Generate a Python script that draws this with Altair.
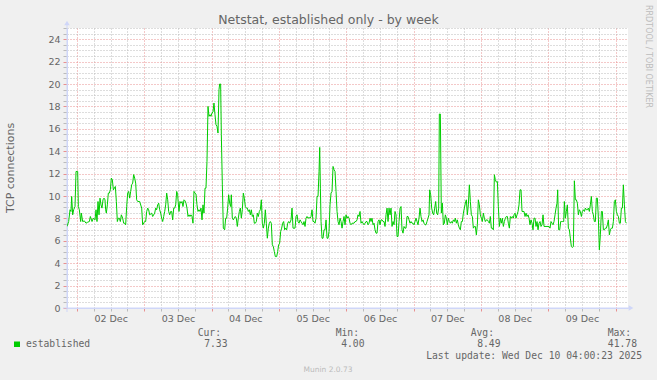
import json
import altair as alt
import pandas as pd

# ---- data (hours since 02 Dec 00:00, TCP connections) ----
HOURS = [
    -3.56, -2.97, -2.49, -2.14, -1.90, -1.54, -1.19, -0.71, -0.35, 0.24, 0.48, 0.83, 1.31, 1.55, 2.02,
    2.62, 3.21, 3.80, 4.40, 4.76, 5.35, 5.83, 6.42, 6.78, 7.13, 7.49, 7.85, 8.20, 8.56, 8.91, 9.27,
    9.63, 9.98, 10.22, 10.46, 10.82, 11.17, 11.53, 11.89, 12.24, 12.60, 12.96, 13.31, 13.67, 14.03,
    14.38, 14.74, 15.09, 15.45, 15.81, 16.28, 16.64, 16.99, 17.35, 17.71, 18.06, 18.42, 18.78, 19.13,
    19.49, 19.85, 20.20, 20.56, 20.92, 21.27, 21.63, 22.34, 23.06, 23.41, 24.13, 24.48, 24.84, 25.20,
    25.55, 25.91, 26.62, 26.98, 27.69, 28.05, 28.40, 28.76, 29.12, 29.47, 29.83, 30.18, 30.54, 30.90,
    31.26, 31.61, 31.97, 32.33, 32.68, 33.04, 33.40, 33.75, 34.11, 34.47, 34.82, 35.18, 35.54, 35.89,
    36.00, 36.36, 36.71, 37.07, 37.43, 37.78, 38.14, 38.50, 38.85, 39.21, 39.57, 39.92, 40.28, 40.63,
    40.99, 41.35, 41.70, 42.06, 42.42, 42.77, 43.13, 43.49, 43.84, 44.20, 44.56, 44.91, 45.27, 45.63,
    45.98, 46.34, 46.70, 47.05, 47.41, 47.76, 48.12, 48.48, 48.83, 49.19, 49.55, 49.90, 50.26, 50.62,
    50.85, 51.21, 51.45, 51.81, 52.16, 52.64, 52.99, 53.35, 53.71, 54.06, 54.42, 54.78, 55.01, 55.37,
    55.73, 56.08, 56.44, 56.80, 57.15, 57.51, 57.87, 58.22, 58.58, 58.94, 59.29, 59.65, 60.00, 60.36,
    60.72, 61.07, 61.43, 61.79, 62.14, 62.50, 62.86, 63.21, 63.57, 63.93, 64.28, 64.64, 65.00, 65.35,
    65.71, 66.07, 66.42, 66.78, 67.14, 67.49, 67.85, 68.21, 68.56, 68.92, 69.27, 69.63, 69.99, 70.34,
    70.70, 71.18, 71.53, 71.89, 72.25, 72.60, 72.96, 73.31, 73.67, 74.03, 74.38, 74.74, 75.10, 75.45,
    75.81, 76.30, 76.65, 77.01, 77.37, 77.72, 78.08, 78.44, 78.79, 79.15, 79.51, 79.86, 80.22, 80.57,
    80.93, 81.29, 81.64, 82.00, 82.36, 82.71, 83.07, 83.43, 83.78, 84.14, 84.50, 84.85, 85.21, 85.57,
    85.92, 86.28, 86.52, 86.76, 87.00, 87.35, 87.71, 88.06, 88.42, 88.78, 89.13, 89.49, 89.84, 90.20,
    90.56, 90.91, 91.27, 91.63, 91.98, 92.34, 92.70, 93.05, 93.41, 93.77, 94.12, 94.48, 94.84, 95.19,
    95.55, 95.90, 96.26, 96.62, 96.97, 97.33, 97.69, 98.04, 98.40, 98.76, 99.11, 99.47, 99.83, 100.18,
    100.54, 100.90, 101.25, 101.61, 101.96, 102.32, 102.68, 103.03, 103.39, 103.75, 104.10, 104.46,
    104.82, 105.17, 105.53, 105.89, 106.24, 106.60, 106.96, 107.31, 107.67, 108.03, 108.38, 108.74,
    109.10, 109.45, 109.81, 110.16, 110.52, 110.88, 111.23, 111.59, 111.95, 112.30, 112.66, 113.02,
    113.37, 113.73, 114.09, 114.44, 114.80, 115.16, 115.51, 115.86, 116.22, 116.57, 116.93, 117.29,
    117.64, 118.00, 118.36, 118.71, 119.07, 119.43, 119.78, 120.14, 120.50, 120.85, 121.21, 121.56,
    121.92, 122.28, 122.63, 122.99, 123.35, 123.70, 124.06, 124.42, 124.77, 125.13, 125.49, 125.72,
    126.08, 126.44, 126.79, 127.15, 127.51, 127.86, 128.22, 128.58, 128.93, 129.17, 129.53, 129.88,
    130.24, 130.60, 130.95, 131.31, 131.67, 132.02, 132.38, 132.73, 133.09, 133.45, 133.80, 134.16,
    134.52, 134.87, 135.23, 135.59, 135.94, 136.30, 136.66, 137.01, 137.37, 137.73, 138.08, 138.44,
    138.80, 139.15, 139.51, 139.87, 140.22, 140.58, 140.94, 141.29, 141.65, 142.01, 142.36, 142.72,
    143.07, 143.43, 143.79, 144.14, 144.50, 144.86, 145.21, 145.57, 145.93, 146.28, 146.64, 147.00,
    147.35, 147.71, 148.07, 148.42, 148.78, 149.13, 149.49, 149.85, 150.20, 150.56, 150.92, 151.27,
    151.63, 151.99, 152.34, 152.70, 153.06, 153.41, 153.77, 154.13, 154.48, 154.84, 155.19, 155.55,
    155.79, 156.15, 156.50, 156.86, 157.22, 157.57, 157.93, 158.29, 158.64, 159.00, 159.36, 159.71,
    160.07, 160.42, 160.78, 161.14, 161.49, 161.85, 162.21, 162.56, 162.92, 163.28, 163.63, 163.99,
    164.35, 164.70, 165.06, 165.42, 165.77, 166.13, 166.49, 166.84, 167.20, 167.55, 167.91, 168.27,
    168.62, 168.98, 169.34, 169.69, 170.05, 170.41, 170.76, 171.12, 171.36, 171.71, 172.07, 172.43,
    172.78, 173.14, 173.50, 173.73, 174.09, 174.45, 174.80, 175.16, 175.52, 175.87, 176.23, 176.59,
    176.94, 177.30, 177.66, 178.01, 178.37, 178.73, 179.08, 179.44, 179.80, 180.15, 180.51, 180.87,
    181.22, 181.58, 181.94, 182.29, 182.65, 183.00, 183.36, 183.72, 184.07, 184.43, 184.79, 185.14,
    185.50, 185.86, 186.21, 186.57, 186.93, 187.28, 187.64, 188.00, 188.35, 188.71, 189.07, 189.42,
    189.78, 190.14, 190.49, 190.85, 191.21, 191.56, 191.92, 192.28, 192.63, 192.99, 193.35, 193.70,
    194.06, 194.42, 194.77, 195.13, 195.49, 195.84,
]
VALUES = [
    7.28, 7.72, 8.77, 8.62, 9.96, 8.32, 8.77, 9.06, 12.19, 12.19, 9.06, 8.77, 7.72, 8.47, 7.72,
    7.78, 7.57, 7.66, 7.72, 8.17, 7.72, 8.02, 7.87, 8.77, 7.72, 9.51, 8.32, 9.81, 9.21, 8.92, 9.66,
    9.81, 9.66, 8.77, 8.47, 9.21, 10.26, 10.26, 10.55, 11.60, 11.45, 10.55, 10.70, 10.85, 9.51,
    7.72, 8.02, 8.02, 7.72, 8.32, 8.02, 7.57, 7.57, 7.43, 9.06, 10.26, 10.41, 9.81, 10.41,
    11.00, 11.15, 11.91, 11.60, 11.15, 9.66, 9.51, 9.51, 8.92, 7.43, 7.72, 7.72, 8.62, 8.92,
    8.77, 8.32, 8.47, 8.17, 8.47, 8.92, 8.77, 9.21, 9.36, 8.77, 8.47, 8.02, 7.72, 8.17,
    8.62, 9.21, 10.26, 9.66, 8.62, 8.32, 8.62, 8.62, 7.87, 8.92, 8.92, 9.21, 10.41, 10.11,
    9.66, 8.62, 9.51, 9.36, 9.51, 9.06, 9.66, 9.57, 9.36, 8.92, 8.17, 8.32, 8.17, 8.32,
    8.17, 7.57, 10.41, 10.26, 10.17, 9.21, 8.62, 8.77, 8.62, 8.92, 7.87, 9.21, 8.47, 10.70,
    10.70, 13.09, 18.00, 17.11, 17.26, 17.11, 17.41, 17.50, 18.30, 17.26, 16.36, 16.22, 15.62, 19.49,
    20.00, 20.00, 15.47, 11.00, 7.13, 6.98, 8.02, 8.02, 8.92, 10.11, 9.36, 9.06, 10.11, 8.02,
    7.87, 8.02, 8.17, 8.02, 7.28, 8.02, 8.62, 8.92, 8.02, 8.77, 10.26, 9.81, 9.06, 8.92,
    8.92, 8.62, 8.77, 8.32, 8.77, 8.17, 8.32, 7.57, 7.57, 7.72, 8.47, 8.17, 8.62, 8.77,
    9.66, 7.57, 7.13, 7.57, 8.77, 7.57, 6.23, 7.13, 7.57, 7.72, 7.57, 5.64, 5.49, 5.04,
    4.59, 4.59, 5.04, 5.64, 5.79, 6.83, 7.13, 7.57, 7.72, 6.98, 7.13, 6.98, 7.57, 7.72,
    7.57, 7.87, 8.92, 7.13, 7.13, 7.13, 8.17, 8.32, 7.72, 7.57, 7.87, 7.72, 7.57, 7.43,
    7.72, 7.28, 8.02, 8.17, 8.02, 8.08, 8.02, 8.17, 8.77, 7.72, 7.72, 7.57, 8.02, 9.96,
    9.96, 12.19, 14.34, 10.70, 7.72, 6.23, 6.23, 6.98, 6.98, 7.87, 6.23, 6.23, 6.83, 9.21,
    10.26, 10.41, 12.64, 12.34, 12.19, 10.41, 8.62, 7.72, 7.43, 8.02, 7.72, 7.13, 7.72, 8.17,
    7.43, 8.32, 8.02, 8.17, 8.02, 7.57, 7.43, 7.57, 7.57, 7.57, 7.72, 7.72, 7.87, 8.32,
    8.17, 8.62, 7.57, 7.72, 7.57, 7.43, 7.57, 7.72, 7.72, 7.43, 7.57, 8.02,
    7.72, 8.02, 7.43, 7.57, 6.98, 6.68, 6.68, 7.72, 7.87, 7.43, 7.87, 7.87,
    7.72, 7.72, 7.28, 8.32, 8.92, 7.72, 8.92, 8.32, 8.92, 7.28, 7.72, 7.43,
    8.62, 8.32, 6.38, 6.38, 7.72, 8.92, 9.06, 6.98, 6.68, 7.28, 7.13, 7.13,
    8.17, 8.17, 7.87, 7.57, 7.72, 7.57, 7.57, 7.43, 7.72, 8.02, 7.72, 7.43,
    8.02, 8.92, 8.17, 7.72, 7.87, 7.57, 7.43, 7.43, 7.72, 8.02, 8.32, 10.55,
    10.11, 8.92, 8.47, 8.32, 8.92, 9.51, 8.47, 8.32, 8.92, 17.32, 17.32, 8.47,
    9.36, 7.43, 7.57, 8.32, 8.02, 7.43, 8.02, 7.72, 7.57, 7.72, 7.57, 7.87,
    7.72, 8.02, 7.57, 7.87, 7.43, 7.13, 6.98, 7.72, 7.72, 8.47, 8.92, 9.36,
    9.66, 8.32, 9.21, 11.00, 9.51, 8.32, 8.17, 7.13, 7.28, 7.28, 6.53, 7.43,
    9.66, 9.21, 8.32, 8.02, 7.72, 8.47, 8.02, 7.72, 7.87, 7.87, 7.72, 7.57,
    8.17, 7.13, 7.13, 6.98, 11.90, 11.45, 11.24, 11.30, 9.06, 7.28, 8.02, 7.57,
    8.02, 7.28, 7.72, 8.02, 8.17, 8.17, 7.57, 7.13, 8.17, 8.02, 8.17, 8.02,
    8.32, 8.47, 8.02, 8.32, 8.62, 9.21, 10.55, 10.55, 8.62, 8.62, 8.62, 8.17,
    8.47, 8.17, 8.32, 8.02, 7.43, 7.87, 7.57, 6.98, 8.02, 8.02, 7.28, 7.72,
    6.98, 7.57, 7.72, 7.28, 7.43, 8.32, 7.28, 7.28, 7.28, 7.28, 7.28, 7.28,
    7.13, 7.72, 7.57, 7.43, 7.72, 8.32, 8.92, 9.36, 10.55, 6.98, 6.98, 7.72,
    7.72, 7.72, 7.72, 9.51, 8.02, 8.62, 9.21, 7.13, 6.98, 6.23, 5.49, 5.40,
    5.49, 11.36, 9.66, 9.66, 9.36, 8.32, 8.77, 8.62, 8.17, 8.62, 8.77, 8.62,
    8.92, 8.77, 8.77, 8.92, 8.62, 9.21, 9.96, 8.62, 8.32, 7.72, 7.72, 9.81,
    9.81, 8.02, 5.19, 6.53, 8.62, 8.62, 6.98, 6.98, 7.13, 7.13, 7.43, 7.87,
    6.53, 6.98, 7.13, 7.13, 7.72, 9.51, 9.66, 8.62, 8.32, 8.17, 7.57, 7.57,
    8.92, 8.92, 11.00, 9.21, 7.72, 7.57,
]

DAY_LABELS = ["02 Dec", "03 Dec", "04 Dec", "05 Dec", "06 Dec", "07 Dec", "08 Dec", "09 Dec"]
X_GRID_HOURS = list(range(0, 193, 6))          # 6-hour grid, day lines every 24 h
Y_GRID = [v / 2 for v in range(0, 51)]         # 0.5 minor grid, labelled every 2
X_DOMAIN = [-3.565, 196.42]
Y_DOMAIN = [0, 25]

TITLE = "Netstat, established only - by week"
Y_TITLE = "TCP connections"
SERIES = "established"
STAT_HEADERS = ["Cur:", "Min:", "Avg:", "Max:"]
STAT_VALUES = ["7.33", "4.00", "8.49", "41.78"]
LAST_UPDATE = "Last update: Wed Dec 10 04:00:23 2025"
VERSION = "Munin 2.0.73"
WATERMARK = "RRDTOOL / TOBI OETIKER"

# ---- layout / style ----
PLOT_L, PLOT_T = 67, 28
W, H = 561, 280
LINE_C = "#00CC00"
MAJOR = "#E89090"
MINOR = "#BBBBBB"
AXIS_C = "#CFD6F8"
FONT_C = "#666666"
SANS = "DejaVu Sans"
MONO = "DejaVu Sans Mono"

df = pd.DataFrame({"h": HOURS, "v": VALUES})

x_cond = {"condition": {"test": "datum.value % 24 === 0", "value": MAJOR}, "value": MINOR}
y_cond = {"condition": {"test": "datum.value % 2 === 0", "value": MAJOR}, "value": MINOR}
x_label_expr = (
    "datum.value % 24 === 12 ? " + json.dumps(DAY_LABELS) + "[floor(datum.value / 24)] : ''"
)
y_label_expr = "datum.value % 2 === 0 ? datum.value : ''"

line = alt.Chart(df).mark_line(color=LINE_C, strokeWidth=1, clip=True).encode(
    x=alt.X(
        "h:Q",
        scale=alt.Scale(domain=X_DOMAIN, nice=False, zero=False),
        axis=alt.Axis(
            values=X_GRID_HOURS, labelExpr=x_label_expr, title=None,
            grid=True, gridColor=x_cond, gridDash=[1, 2], gridWidth=1,
            ticks=True, tickColor=x_cond, tickSize=3,
            domainColor=AXIS_C, domainWidth=1,
            labelFont=SANS, labelFontSize=9.5, labelColor=FONT_C, labelPadding=2,
            labelOverlap=False, labelFlush=False, labelBound=False,
        ),
    ),
    y=alt.Y(
        "v:Q",
        scale=alt.Scale(domain=Y_DOMAIN, nice=False),
        axis=alt.Axis(
            values=Y_GRID, labelExpr=y_label_expr, title=None,
            grid=True, gridColor=y_cond, gridDash=[1, 2], gridWidth=1,
            ticks=True, tickColor=y_cond, tickSize=4,
            domainColor=AXIS_C, domainWidth=1,
            labelFont=SANS, labelFontSize=9.5, labelColor=FONT_C, labelPadding=3,
            labelOverlap=False, labelFlush=False, labelBound=False,
        ),
    ),
)


def text_at(s, x, y, size, font=SANS, color=FONT_C, align="left", baseline="alphabetic", angle=0):
    return alt.Chart(pd.DataFrame({"t": [s]})).mark_text(
        align=align, baseline=baseline, font=font, fontSize=size, color=color, angle=angle
    ).encode(x=alt.value(x - PLOT_L), y=alt.value(y - PLOT_T), text="t:N")


one = pd.DataFrame({"a": [0]})
axis_ext = alt.Chart(one).mark_rule(color=AXIS_C, strokeWidth=1).encode(
    x=alt.value(0), y=alt.value(-5), y2=alt.value(H + 4)
)
axis_ext2 = alt.Chart(one).mark_rule(color=AXIS_C, strokeWidth=1).encode(
    x=alt.value(-4), x2=alt.value(W + 3), y=alt.value(H)
)
arrow_up = alt.Chart(one).mark_point(shape="triangle-up", filled=True, size=30, color=AXIS_C, opacity=1).encode(
    x=alt.value(0), y=alt.value(-5)
)
arrow_right = alt.Chart(one).mark_point(shape="triangle-right", filled=True, size=30, color=AXIS_C, opacity=1).encode(
    x=alt.value(W + 3), y=alt.value(H)
)
legend_box = alt.Chart(one).mark_rect(color=LINE_C).encode(
    x=alt.value(14 - PLOT_L), x2=alt.value(20 - PLOT_L),
    y=alt.value(341.5 - PLOT_T), y2=alt.value(347 - PLOT_T),
)

layers = [axis_ext, axis_ext2, line, arrow_up, arrow_right, legend_box]
layers.append(text_at(TITLE, 328.5, 24, 12.5, align="center"))
layers.append(text_at(Y_TITLE, 11, 168, 11, align="center", baseline="middle", angle=270))
layers.append(text_at(WATERMARK, 648, 5, 8, color="#BDBDBD", align="left", baseline="middle", angle=90))
layers.append(text_at(SERIES, 26, 347, 9.7, font=MONO))
header_right = [221, 359, 494, 631]
value_right = [227.5, 364.5, 500.5, 637]
for hd, hx in zip(STAT_HEADERS, header_right):
    layers.append(text_at(hd, hx, 336, 9.7, font=MONO, align="right"))
for vv, vx in zip(STAT_VALUES, value_right):
    layers.append(text_at(vv, vx, 347, 9.7, font=MONO, align="right"))
layers.append(text_at(LAST_UPDATE, 642, 359, 9.7, font=MONO, align="right"))
layers.append(text_at(VERSION, 328, 372, 7.5, color="#BBBBBB", align="center"))

chart = alt.layer(*layers).properties(
    width=W, height=H,
    padding={"left": PLOT_L, "top": PLOT_T, "right": 657 - PLOT_L - W, "bottom": 380 - PLOT_T - H},
    autosize=alt.AutoSizeParams(type="none"),
    background="#F0F0F0",
).configure_view(fill="#FFFFFF", stroke=None)

chart.save("out.html", embed_options={"renderer": "svg", "actions": False})
